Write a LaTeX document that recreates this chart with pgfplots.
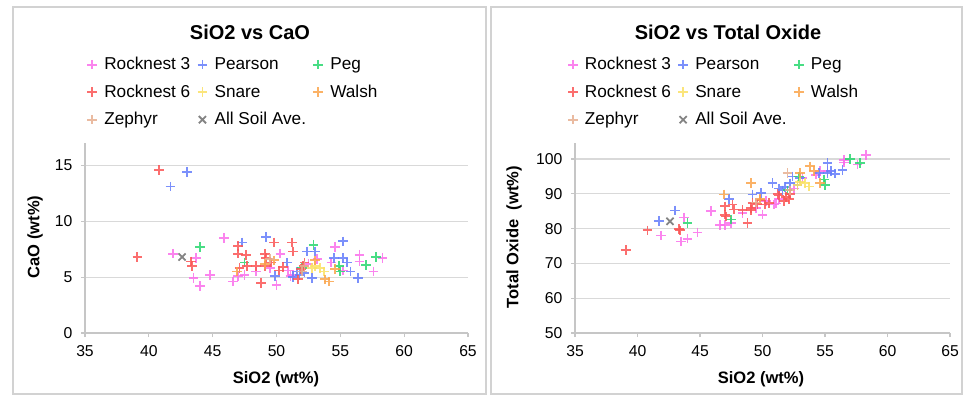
\documentclass[border=0pt]{standalone}
\usepackage{fontspec}
\setmainfont{Liberation Sans}
\usepackage{pgfplots}
\usepackage{pgfplotstable}
\pgfplotsset{compat=1.18}

\definecolor{rn3}{RGB}{250,110,235}
\definecolor{pea}{RGB}{100,125,250}
\definecolor{peg}{RGB}{40,215,110}
\definecolor{rn6}{RGB}{250,85,85}
\definecolor{snr}{RGB}{250,225,100}
\definecolor{wal}{RGB}{250,165,75}
\definecolor{zep}{RGB}{230,175,145}
\definecolor{ave}{RGB}{110,110,110}

\pgfplotstableread{
x cao tot
41.9 7.1 78.0
43.7 6.7 83.2
43.5 4.9 76.3
44.0 4.2 77.1
44.8 5.2 78.9
45.9 8.5 85.0
46.6 4.6 81.1
47.0 5.1 81.1
47.5 5.2 81.6
48.4 5.5 84.5
49.5 5.8 86.0
50.0 4.3 84.0
50.3 7.1 88.0
50.9 5.6 86.9
51.1 5.1 87.2
51.3 5.2 88.5
52.5 6.2 91.5
53.2 6.6 94.5
54.3 6.3 95.5
54.6 7.7 96.5
55.2 5.6 96.5
56.5 7.0 99.8
56.5 6.4 99.0
57.6 5.5 98.4
58.3 6.7 101.2
}\rnthree

\pgfplotstableread{
x cao tot
41.7 13.1 82.1
43.0 14.4 85.2
47.3 8.1 88.5
49.2 8.6 89.8
49.9 5.1 90.2
50.8 6.3 93.1
51.3 5.0 91.5
51.6 5.5 91.0
51.8 5.2 92.0
52.2 5.4 93.0
52.4 7.3 95.0
52.8 4.9 92.5
53.0 7.3 94.5
54.5 6.7 96.0
55.2 8.2 98.9
55.2 6.7 96.0
55.5 6.3 96.5
55.8 5.5 95.8
56.4 4.9 96.9
}\pearson

\pgfplotstableread{
x cao tot
44.0 7.7 81.6
47.5 6.3 82.6
52.0 5.8 91.0
52.9 7.9 95.0
54.9 6.0 94.1
55.0 5.5 92.6
57.0 6.1 100.0
57.8 6.8 98.9
}\peg

\pgfplotstableread{
x cao tot
39.1 6.8 73.8
40.8 14.6 79.5
43.3 6.4 79.9
43.4 6.0 79.5
47.0 7.8 86.4
47.0 7.1 84.0
47.1 5.8 83.5
47.6 7.0 86.9
47.7 6.0 85.5
48.4 6.0 85.4
48.8 4.5 81.6
49.1 7.1 85.9
49.1 6.0 85.4
49.2 6.7 87.4
49.6 6.3 87.0
49.8 8.1 88.3
50.2 5.6 86.9
50.5 5.9 87.4
51.2 8.1 90.0
51.3 7.3 89.5
51.7 4.8 88.0
51.9 5.7 89.0
52.1 6.0 88.5
52.2 6.3 90.0
}\rnsix

\pgfplotstableread{
x cao tot
52.8 5.8 92.5
53.0 6.0 93.5
53.4 5.8 93.1
53.7 5.5 92.1
}\snare

\pgfplotstableread{
x cao tot
46.9 5.5 89.8
49.1 6.2 93.1
49.8 6.5 88.5
53.0 6.5 96.0
53.8 4.8 97.9
54.1 4.6 96.5
54.6 5.7 93.1
}\walsh

\pgfplotstableread{
x cao tot
49.5 6.6 87.5
52.0 5.5 96.0
52.2 6.0 91.0
}\zephyr

\pgfplotstableread{
x cao tot
42.6 6.8 82.1
}\allave

\pgfplotsset{
  myax/.style={
    scale only axis, height=142.5pt,
    xmin=35, xmax=65, xtick={35,40,...,65},
    axis x line*=bottom, axis y line*=left,
    axis line style={gray!45, line width=0.9pt},
    tick style={gray!45, line width=0.9pt},
    major tick length=3pt, tick align=outside,
    ymajorgrids, grid style={gray!30, line width=0.9pt},
    ticklabel style={font=\fontsize{11.8}{13}\selectfont},
    xticklabel style={yshift=-3pt},
    yticklabel style={xshift=-3pt},
    /pgf/number format/assume math mode=true,
    legend columns=3, legend cell align=left,
    legend style={draw=none, fill=none, font=\fontsize{12.9}{15}\selectfont,
      column sep=3.5pt, row sep=5.8pt, anchor=north west},
  },
  sty/.style={only marks, mark=+, mark size=3.6pt,
    mark options={line width=1.35pt, opacity=0.85},
    legend image code/.code={\draw[mark repeat=2,mark phase=2,##1] plot coordinates {(0cm,0cm)(0.17cm,0cm)(0.34cm,0cm)};}},
}

\begin{document}
\begin{tikzpicture}
\useasboundingbox (0,0) rectangle (725.25pt,300pt);
\begin{scope}[x=0.75pt,y=-0.75pt,yshift=300pt]
  \draw[gray!35, line width=0.9pt] (13,7) rectangle (486,394);
  \draw[gray!35, line width=0.9pt] (491,7) rectangle (962,394);
\end{scope}

\begin{axis}[myax, at={(63.75pt,50.25pt)}, anchor=south west,
  width=287.25pt, ymin=0, ymax=17, ytick={0,5,10,15},
  legend style={at={(axis description cs:-0.005,1.48)}}]
  \addplot[sty, rn3] table[x=x,y=cao]{\rnthree};
  \addlegendentry{Rocknest 3}
  \addplot[sty, pea] table[x=x,y=cao]{\pearson};
  \addlegendentry{Pearson}
  \addplot[sty, peg] table[x=x,y=cao]{\peg};
  \addlegendentry{Peg}
  \addplot[sty, rn6] table[x=x,y=cao]{\rnsix};
  \addlegendentry{Rocknest 6}
  \addplot[sty, snr] table[x=x,y=cao]{\snare};
  \addlegendentry{Snare}
  \addplot[sty, wal] table[x=x,y=cao]{\walsh};
  \addlegendentry{Walsh}
  \addplot[sty, zep] table[x=x,y=cao]{\zephyr};
  \addlegendentry{Zephyr}
  \addplot[sty, ave, mark=x, mark size=3.8pt] table[x=x,y=cao]{\allave};
  \addlegendentry{All Soil Ave.}
\end{axis}

\begin{axis}[myax, at={(431.25pt,50.25pt)}, anchor=south west,
  width=281.25pt, ymin=50, ymax=104.6, ytick={50,60,...,100},
  legend style={at={(axis description cs:-0.03,1.48)}}]
  \addplot[sty, rn3] table[x=x,y=tot]{\rnthree};
  \addlegendentry{Rocknest 3}
  \addplot[sty, pea] table[x=x,y=tot]{\pearson};
  \addlegendentry{Pearson}
  \addplot[sty, peg] table[x=x,y=tot]{\peg};
  \addlegendentry{Peg}
  \addplot[sty, rn6] table[x=x,y=tot]{\rnsix};
  \addlegendentry{Rocknest 6}
  \addplot[sty, snr] table[x=x,y=tot]{\snare};
  \addlegendentry{Snare}
  \addplot[sty, wal] table[x=x,y=tot]{\walsh};
  \addlegendentry{Walsh}
  \addplot[sty, zep] table[x=x,y=tot]{\zephyr};
  \addlegendentry{Zephyr}
  \addplot[sty, ave, mark=x, mark size=3.8pt] table[x=x,y=tot]{\allave};
  \addlegendentry{All Soil Ave.}
\end{axis}

\begin{scope}[x=0.75pt,y=-0.75pt,yshift=300pt]
  \node[font=\bfseries\fontsize{15}{18}\selectfont] at (250,32) {SiO2 vs CaO};
  \node[font=\bfseries\fontsize{15}{18}\selectfont] at (728,32) {SiO2 vs Total Oxide};
  \node[font=\bfseries\fontsize{12.4}{14}\selectfont, rotate=90] at (35,237) {CaO (wt\%)};
  \node[font=\bfseries\fontsize{12.4}{14}\selectfont, rotate=90] at (514,237) {Total Oxide~ (wt\%)};
  \node[font=\bfseries\fontsize{12.4}{14}\selectfont] at (276,379) {SiO2 (wt\%)};
  \node[font=\bfseries\fontsize{12.4}{14}\selectfont] at (761,379) {SiO2 (wt\%)};
\end{scope}
\end{tikzpicture}
\end{document}
